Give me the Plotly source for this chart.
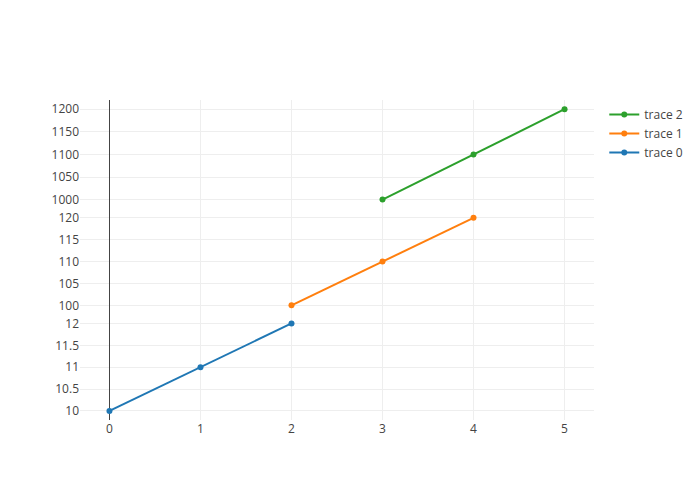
import plotly.graph_objects as go

x0 = [0, 1, 2]
y0 = [10, 11, 12]
x1 = [2, 3, 4]
y1 = [100, 110, 120]
x2 = [3, 4, 5]
y2 = [1000, 1100, 1200]
names = ["trace 0", "trace 1", "trace 2"]
colors = ["#1f77b4", "#ff7f0e", "#2ca02c"]

fig = go.Figure()
fig.add_trace(go.Scatter(x=x0, y=y0, name=names[0], mode="lines+markers",
                         line=dict(color=colors[0], width=2), marker=dict(size=6)))
fig.add_trace(go.Scatter(x=x1, y=y1, name=names[1], mode="lines+markers", yaxis="y2",
                         line=dict(color=colors[1], width=2), marker=dict(size=6)))
fig.add_trace(go.Scatter(x=x2, y=y2, name=names[2], mode="lines+markers", yaxis="y3",
                         line=dict(color=colors[2], width=2), marker=dict(size=6)))

ax = dict(gridcolor="#eee", zeroline=True, zerolinecolor="#444", zerolinewidth=1,
          showline=False, ticks="", tickfont=dict(color="#444", size=12))
fig.update_layout(
    template="none",
    width=700, height=500,
    paper_bgcolor="white", plot_bgcolor="white",
    font=dict(family="Open Sans, verdana, arial, sans-serif", color="#444", size=12),
    margin=dict(l=80, r=80, t=100, b=80),
    legend=dict(traceorder="reversed"),
    xaxis=dict(**ax),
    yaxis=dict(domain=[0, 0.33], **ax),
    yaxis2=dict(domain=[0.33, 0.66], **ax),
    yaxis3=dict(domain=[0.66, 1], **ax),
)
fig.write_html("out.html",
               config={"displayModeBar": False},
               post_script="document.body.style.margin='0';")
